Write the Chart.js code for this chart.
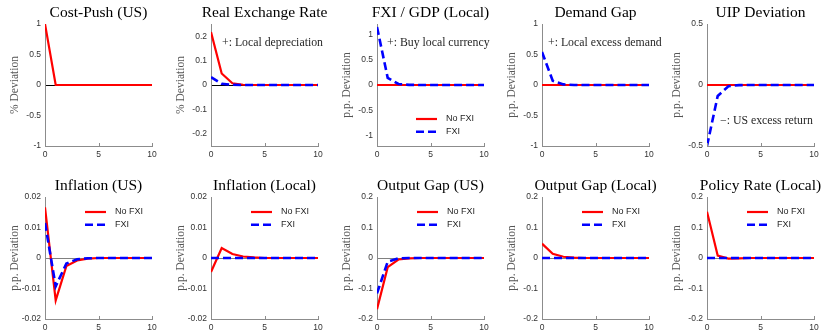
<!DOCTYPE html>
<html>
<head>
<meta charset="utf-8">
<script src="https://cdn.jsdelivr.net/npm/chart.js@4.4.0/dist/chart.umd.min.js"></script>
<style>
  html, body { margin: 0; padding: 0; background: #fff; }
  #wrap { position: relative; width: 823px; height: 334px; overflow: hidden; }
  .panel { position: absolute; }
</style>
</head>
<body>
<div id="wrap"></div>
<script>
// horizon (quarters) and x tick labels
const horizon = [0, 1, 2, 3, 4, 5, 6, 7, 8, 9, 10];
const xTicks = [0, 5, 10];

// y tick labels
const ticksUnit = [-1, -0.5, 0, 0.5, 1];
const ticksTenth = [-0.2, -0.1, 0, 0.1, 0.2];
const ticksHalf = [-0.5, 0, 0.5];
const ticksInfl = [-0.02, -0.01, 0, 0.01, 0.02];

// impulse responses: No FXI (red) and FXI (blue)
const costPushNoFxi = [1, 0, 0, 0, 0, 0, 0, 0, 0, 0, 0];
const rerNoFxi = [0.217, 0.047, 0.007, 0.001, 0, 0, 0, 0, 0, 0, 0];
const rerFxi = [0.032, 0.005, 0.001, 0, 0, 0, 0, 0, 0, 0, 0];
const fxiNoFxi = [0, 0, 0, 0, 0, 0, 0, 0, 0, 0, 0];
const fxiFxi = [1.14, 0.14, 0.02, 0.003, 0, 0, 0, 0, 0, 0, 0];
const demandNoFxi = [0, 0, 0, 0, 0, 0, 0, 0, 0, 0, 0];
const demandFxi = [0.54, 0.07, 0.01, 0.001, 0, 0, 0, 0, 0, 0, 0];
const uipNoFxi = [0, 0, 0, 0, 0, 0, 0, 0, 0, 0, 0];
const uipFxi = [-0.5, -0.09, -0.01, -0.001, 0, 0, 0, 0, 0, 0, 0];
const inflUsNoFxi = [0.0166, -0.0139, -0.0026, -0.0008, -0.0002, 0, 0, 0, 0, 0, 0];
const inflUsFxi = [0.0115, -0.0093, -0.0018, -0.0004, -0.0001, 0, 0, 0, 0, 0, 0];
const inflLocNoFxi = [-0.0046, 0.0033, 0.0013, 0.0005, 0.0002, 0, 0, 0, 0, 0, 0];
const inflLocFxi = [0, 0, 0, 0, 0, 0, 0, 0, 0, 0, 0];
const gapUsNoFxi = [-0.168, -0.03, -0.005, -0.001, 0, 0, 0, 0, 0, 0, 0];
const gapUsFxi = [-0.116, -0.012, -0.001, 0, 0, 0, 0, 0, 0, 0, 0];
const gapLocNoFxi = [0.047, 0.014, 0.004, 0.001, 0, 0, 0, 0, 0, 0, 0];
const gapLocFxi = [0, 0, 0, 0, 0, 0, 0, 0, 0, 0, 0];
const rateNoFxi = [0.152, 0.008, -0.002, -0.001, 0, 0, 0, 0, 0, 0, 0];
const rateFxi = [0, 0, 0, 0, 0, 0, 0, 0, 0, 0, 0];

const RED = '#ff0000';
const BLUE = '#0000ff';
const SERIF = '"Liberation Serif", "Times New Roman", serif';
const SANS = '"Liberation Sans", Arial, sans-serif';

const colX = [45, 211, 377, 542, 707];
const rowTop = [24, 197];
const plotH = 122;

const panels = [
  { row: 0, col: 0, title: 'Cost-Push (US)', ylabel: '% Deviation', min: -1, max: 1, ticks: ticksUnit,
    noFxi: costPushNoFxi, fxi: null },
  { row: 0, col: 1, title: 'Real Exchange Rate', ylabel: '% Deviation', min: -0.25, max: 0.25, ticks: ticksTenth,
    noFxi: rerNoFxi, fxi: rerFxi, note: { text: '+: Local depreciation', dx: 11, dy: 19 } },
  { row: 0, col: 2, title: 'FXI / GDP (Local)', ylabel: 'p.p. Deviation', min: -1.2, max: 1.2, ticks: ticksUnit,
    noFxi: fxiNoFxi, fxi: fxiFxi, note: { text: '+: Buy local currency', dx: 10, dy: 19 }, legend: { dx: 39, dy: 95 } },
  { row: 0, col: 3, title: 'Demand Gap', ylabel: 'p.p. Deviation', min: -1, max: 1, ticks: ticksUnit,
    noFxi: demandNoFxi, fxi: demandFxi, note: { text: '+: Local excess demand', dx: 6, dy: 19 } },
  { row: 0, col: 4, title: 'UIP Deviation', ylabel: 'p.p. Deviation', min: -0.5, max: 0.5, ticks: ticksHalf,
    noFxi: uipNoFxi, fxi: uipFxi, note: { text: '\u2212: US excess return', dx: 13, dy: 97 } },
  { row: 1, col: 0, title: 'Inflation (US)', ylabel: 'p.p. Deviation', min: -0.02, max: 0.02, ticks: ticksInfl,
    noFxi: inflUsNoFxi, fxi: inflUsFxi, legend: { dx: 40, dy: 15 } },
  { row: 1, col: 1, title: 'Inflation (Local)', ylabel: 'p.p. Deviation', min: -0.02, max: 0.02, ticks: ticksInfl,
    noFxi: inflLocNoFxi, fxi: inflLocFxi, legend: { dx: 40, dy: 15 } },
  { row: 1, col: 2, title: 'Output Gap (US)', ylabel: 'p.p. Deviation', min: -0.2, max: 0.2, ticks: ticksTenth,
    noFxi: gapUsNoFxi, fxi: gapUsFxi, legend: { dx: 40, dy: 15 } },
  { row: 1, col: 3, title: 'Output Gap (Local)', ylabel: 'p.p. Deviation', min: -0.2, max: 0.2, ticks: ticksTenth,
    noFxi: gapLocNoFxi, fxi: gapLocFxi, legend: { dx: 40, dy: 15 } },
  { row: 1, col: 4, title: 'Policy Rate (Local)', ylabel: 'p.p. Deviation', min: -0.2, max: 0.2, ticks: ticksTenth,
    noFxi: rateNoFxi, fxi: rateFxi, legend: { dx: 40, dy: 15 } }
];

const toPts = vals => horizon.map((h, i) => ({ x: h, y: vals[i] }));

// titles, notes, legends and inward ticks drawn on top of each panel
const decor = p => ({
  id: 'decor',
  afterDraw(chart) {
    const ctx = chart.ctx;
    const ca = chart.chartArea;
    const xs = chart.scales.x;
    ctx.save();
    // inward x ticks
    ctx.strokeStyle = '#8c8c8c';
    ctx.lineWidth = 1;
    xTicks.forEach(v => {
      const px = Math.round(xs.getPixelForValue(v)) + 0.5;
      ctx.beginPath();
      ctx.moveTo(px, ca.bottom);
      ctx.lineTo(px, ca.bottom - 3);
      ctx.stroke();
    });
    // title
    ctx.fillStyle = '#000';
    ctx.font = '15.5px ' + SERIF;
    ctx.textAlign = 'center';
    ctx.textBaseline = 'middle';
    ctx.fillText(p.title, (ca.left + ca.right) / 2, ca.top - 11);
    // note
    if (p.note) {
      ctx.fillStyle = '#262626';
      ctx.font = '11.8px ' + SERIF;
      ctx.textAlign = 'left';
      ctx.fillText(p.note.text, ca.left + p.note.dx, ca.top + p.note.dy);
    }
    // legend
    if (p.legend) {
      const items = [['No FXI', RED, []], ['FXI', BLUE, [8, 4]]];
      items.forEach((it, i) => {
        const y = ca.top + p.legend.dy + i * 12.8;
        const x = ca.left + p.legend.dx;
        ctx.strokeStyle = it[1];
        ctx.lineWidth = i === 0 ? 2.2 : 2.6;
        ctx.setLineDash(it[2]);
        ctx.beginPath();
        ctx.moveTo(x, y);
        ctx.lineTo(x + 21, y);
        ctx.stroke();
        ctx.setLineDash([]);
        ctx.fillStyle = '#262626';
        ctx.font = '9px ' + SANS;
        ctx.textAlign = 'left';
        ctx.fillText(it[0], x + 30, y);
      });
    }
    ctx.restore();
  }
});

function makePanel(p) {
  const left = colX[p.col] - 45;
  const top = p.row === 0 ? 0 : 165;
  const h = p.row === 0 ? 165 : 169;
  const w = Math.min(180, 823 - left);
  const padTop = rowTop[p.row] - top;
  const xH = h - padTop - plotH;
  const zeroCol = p.row === 0 ? '#000000' : '#808080';

  const div = document.createElement('div');
  div.className = 'panel';
  div.style.left = left + 'px';
  div.style.top = top + 'px';
  const cv = document.createElement('canvas');
  cv.width = w;
  cv.height = h;
  cv.style.width = w + 'px';
  cv.style.height = h + 'px';
  div.appendChild(cv);
  document.getElementById('wrap').appendChild(div);

  const datasets = [{
    label: 'No FXI', data: toPts(p.noFxi), borderColor: RED, borderWidth: 2.2,
    pointRadius: 0, tension: 0, order: 1
  }];
  if (p.fxi) {
    datasets.push({
      label: 'FXI', data: toPts(p.fxi), borderColor: BLUE, borderWidth: 2.6,
      borderDash: [8, 4], pointRadius: 0, tension: 0, order: 0
    });
  }

  new Chart(cv, {
    type: 'line',
    data: { datasets },
    options: {
      responsive: false,
      animation: false,
      devicePixelRatio: 1,
      layout: { padding: { left: 0, top: padTop, right: w - 45 - 107, bottom: 0 } },
      plugins: { legend: { display: false }, tooltip: { enabled: false } },
      scales: {
        x: {
          type: 'linear', min: 0, max: 10,
          afterBuildTicks: s => { s.ticks = xTicks.map(v => ({ value: v })); },
          afterFit: s => { s.height = xH; },
          grid: { color: 'rgba(0,0,0,0)', drawTicks: false },
          border: { color: '#8c8c8c', width: 1 },
          ticks: { padding: 4, color: '#333', maxRotation: 0, autoSkip: false,
                   font: { family: SANS, size: 8.5 } }
        },
        y: {
          min: p.min, max: p.max,
          afterBuildTicks: s => { s.ticks = p.ticks.map(v => ({ value: v })); },
          afterFit: s => { s.width = 45; },
          grid: {
            drawTicks: false, lineWidth: 1,
            color: c => (c.tick && c.tick.value === 0) ? zeroCol : 'rgba(0,0,0,0)'
          },
          border: { color: '#8c8c8c', width: 1 },
          ticks: { padding: 4, color: '#333', autoSkip: false,
                   font: { family: SANS, size: 8.5 },
                   callback: v => String(+v.toFixed(4)) },
          title: { display: true, text: p.ylabel, color: '#555',
                   font: { family: SERIF, size: 11.5 }, padding: { top: 8, bottom: 0 } }
        }
      }
    },
    plugins: [decor(p)]
  });
}

panels.forEach(makePanel);
</script>
</body>
</html>
